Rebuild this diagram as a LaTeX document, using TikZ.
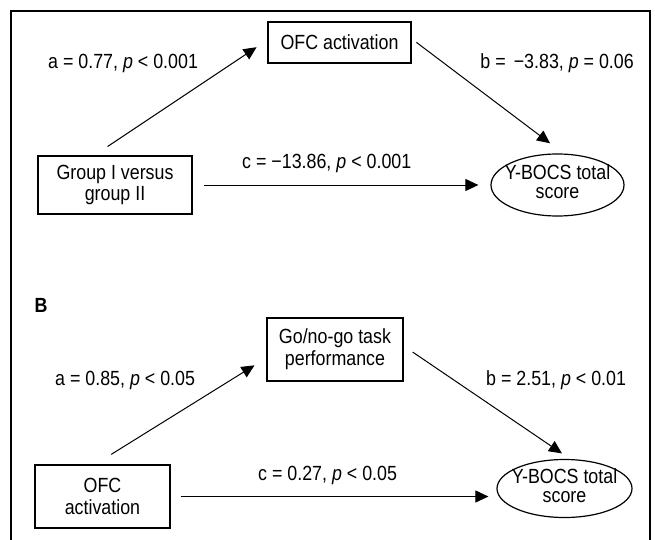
\documentclass[tikz,border=0pt]{standalone}
\usepackage{fontspec}
\setmainfont{Liberation Sans}[FakeStretch=0.87]
\usetikzlibrary{shapes.geometric,arrows.meta,calc}
\begin{document}
\begin{tikzpicture}[x=1pt,y=-1pt,
  txt/.style={font=\fontsize{20.5}{21.7}\selectfont},
  box/.style={draw, line width=1.2pt, inner sep=0pt, align=center, txt},
  ellip/.style={draw, ellipse, line width=1.2pt, inner sep=0pt, txt},
  arr/.style={-{Triangle[length=13pt,width=12pt]}, line width=1pt},
  lab/.style={inner sep=0pt, txt},
  frame/.style={line width=1.4pt}]
\useasboundingbox (0,0) rectangle (655,540);
\draw[frame] (11,540) -- (11,11) -- (650,11) -- (650,540);

% panel A
\node[box, minimum width=143pt, minimum height=41pt] (ofc) at (339.5,42.5) {OFC activation};
\node[box, minimum width=154pt, minimum height=58pt] (g) at (115,185) {Group I versus\\group II};
\node[ellip, minimum width=133pt, minimum height=62pt] (y1) at (557.5,185)
  {\makebox[0pt]{\begin{tabular}{@{}c@{}}Y-BOCS total\\[-3pt]score\end{tabular}}};

\draw[arr, shorten <=16pt, shorten >=13pt] (g.125) -- (ofc.178);
\draw[arr, shorten <=6pt, shorten >=17pt] (ofc.3) -- (y1.79);
\draw[arr, shorten <=11pt, shorten >=12pt] (g) -- (y1);

\node[lab, anchor=west] (la1) at (48,63) {a = 0.77, \textit{p} {<} 0.001};
\node[lab, anchor=east] (lb1) at (634,63) {b = \hspace{0.15em}−3.83, \textit{p} = 0.06};
\node[lab, anchor=west] (lc1) at (242,163) {c = −13.86, \textit{p} {<} 0.001};

% panel B
\node[lab, font=\fontsize{20.5}{21.7}\selectfont\bfseries] (B) at (41,305) {B};
\node[box, minimum width=136pt, minimum height=63pt] (go) at (335,349.5) {Go/no-go task\\performance};
\node[box, minimum width=135pt, minimum height=63pt] (ob) at (102.5,496.5) {OFC\\activation};
\node[ellip, minimum width=135pt, minimum height=58pt] (y2) at (564.5,488.5)
  {\makebox[0pt]{\begin{tabular}{@{}c@{}}Y-BOCS total\\[-3pt]score\end{tabular}}};

\draw[arr, shorten <=19pt, shorten >=14pt] (ob.103) -- (go.187);
\draw[arr, shorten <=11pt, shorten >=10pt] (go.3) -- (y2.79);
\draw[arr, shorten <=10pt, shorten >=8pt] (ob.east) -- (ob.east -| y2.west);

\node[lab, anchor=west] (la2) at (55,380) {a = 0.85, \textit{p} {<} 0.05};
\node[lab, anchor=west] (lb2) at (486,380) {b = 2.51, \textit{p} {<} 0.01};
\node[lab, anchor=west] (lc2) at (258,475) {c = 0.27, \textit{p} {<} 0.05};
\end{tikzpicture}
\end{document}
